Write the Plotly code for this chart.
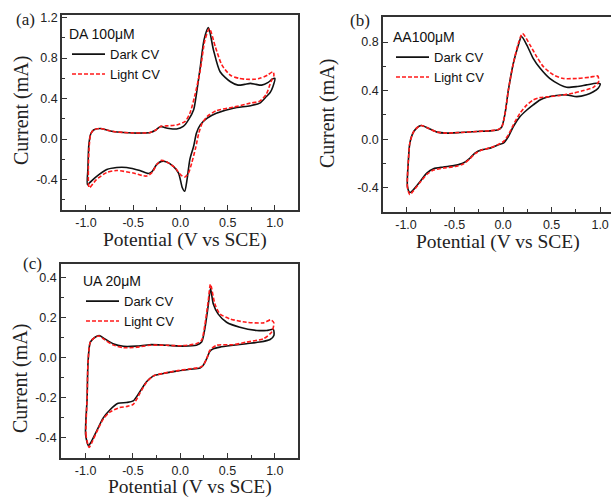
import plotly.graph_objects as go

# ---------------- data ----------------
# Panel (a) DA 100 uM
a_dark_x = [-0.985, -0.98, -0.97, -0.95, -0.92, -0.85, -0.78, -0.71, -0.60, -0.50, -0.40, -0.32, -0.26, -0.21,
            -0.17, -0.12, -0.04, 0.03, 0.085, 0.14, 0.17, 0.21, 0.25, 0.296, 0.35, 0.42, 0.53, 0.61, 0.68, 0.74,
            0.80, 0.86, 0.93, 0.97, 1.0, 0.98, 0.95, 0.91, 0.84, 0.74, 0.56, 0.38, 0.28, 0.21, 0.17, 0.14, 0.10,
            0.07, 0.045, 0.02, -0.02, -0.075, -0.145, -0.2, -0.25, -0.3, -0.34, -0.43, -0.57, -0.675, -0.78,
            -0.89, -0.96, -0.985]
a_dark_y = [-0.45, -0.30, -0.06, 0.05, 0.09, 0.105, 0.09, 0.075, 0.065, 0.06, 0.06, 0.065, 0.09, 0.125,
            0.115, 0.105, 0.10, 0.125, 0.19, 0.29, 0.45, 0.71, 0.98, 1.10, 0.88, 0.665, 0.566, 0.533, 0.54, 0.55,
            0.54, 0.533, 0.56, 0.59, 0.60, 0.52, 0.46, 0.42, 0.355, 0.33, 0.305, 0.255, 0.205, 0.14, 0.06, -0.07,
            -0.20, -0.40, -0.515, -0.48, -0.335, -0.27, -0.225, -0.22, -0.25, -0.32, -0.34, -0.31, -0.28, -0.28,
            -0.30, -0.37, -0.43, -0.45]
a_light_x = [-0.965, -0.975, -0.965, -0.95, -0.92, -0.85, -0.78, -0.71, -0.60, -0.50, -0.40, -0.32, -0.26,
             -0.21, -0.145, -0.04, 0.05, 0.10, 0.15, 0.21, 0.26, 0.307, 0.37, 0.44, 0.53, 0.62, 0.70, 0.78, 0.84,
             0.92, 0.98, 0.99, 0.96, 0.91, 0.84, 0.74, 0.56, 0.38, 0.28, 0.23, 0.195, 0.16, 0.12, 0.085, 0.045,
             0.0, -0.055, -0.145, -0.2, -0.25, -0.3, -0.36, -0.5, -0.675, -0.78, -0.89, -0.965]
a_light_y = [-0.48, -0.30, -0.06, 0.05, 0.09, 0.105, 0.09, 0.075, 0.065, 0.06, 0.06, 0.065, 0.09, 0.125, 0.13,
             0.14, 0.175, 0.255, 0.42, 0.68, 0.98, 1.09, 0.91, 0.73, 0.63, 0.60, 0.59, 0.59, 0.60, 0.63, 0.665,
             0.63, 0.57, 0.445, 0.375, 0.355, 0.315, 0.28, 0.22, 0.155, 0.06, -0.09, -0.235, -0.335, -0.375,
             -0.35, -0.285, -0.225, -0.21, -0.25, -0.33, -0.365, -0.335, -0.31, -0.33, -0.40, -0.48]

# Panel (b) AA 100 uM
b_dark_x = [-0.96, -0.985, -0.975, -0.96, -0.92, -0.87, -0.84, -0.77, -0.68, -0.58, -0.44, -0.27, -0.13, -0.05,
            -0.014, 0.02, 0.055, 0.106, 0.158, 0.19, 0.245, 0.31, 0.38, 0.48, 0.587, 0.655, 0.76, 0.86, 0.96, 1.0,
            0.98, 0.93, 0.86, 0.76, 0.655, 0.55, 0.45, 0.38, 0.31, 0.245, 0.175, 0.106, 0.055, 0.003, -0.048,
            -0.134, -0.22, -0.29, -0.34, -0.41, -0.494, -0.614, -0.717, -0.786, -0.854, -0.923, -0.96]
b_dark_y = [-0.44, -0.39, -0.17, -0.03, 0.063, 0.104, 0.112, 0.09, 0.058, 0.05, 0.055, 0.063, 0.068, 0.077,
            0.10, 0.21, 0.405, 0.625, 0.775, 0.845, 0.775, 0.665, 0.585, 0.50, 0.447, 0.427, 0.433, 0.447, 0.46,
            0.455, 0.42, 0.39, 0.365, 0.35, 0.365, 0.36, 0.345, 0.323, 0.282, 0.24, 0.186, 0.104, 0.022, -0.033,
            -0.047, -0.074, -0.088, -0.115, -0.156, -0.197, -0.216, -0.23, -0.244, -0.28, -0.348, -0.416, -0.44]
b_light_x = [-0.96, -0.985, -0.975, -0.96, -0.92, -0.87, -0.84, -0.77, -0.68, -0.58, -0.44, -0.27, -0.13, -0.05,
             -0.014, 0.02, 0.055, 0.106, 0.158, 0.2, 0.278, 0.346, 0.415, 0.518, 0.62, 0.76, 0.895, 0.975, 0.985,
             0.93, 0.83, 0.72, 0.587, 0.48, 0.38, 0.31, 0.245, 0.175, 0.106, 0.055, 0.003, -0.048, -0.134, -0.22,
             -0.29, -0.34, -0.41, -0.494, -0.614, -0.717, -0.786, -0.854, -0.923, -0.96]
b_light_y = [-0.457, -0.40, -0.17, -0.03, 0.063, 0.104, 0.112, 0.09, 0.058, 0.05, 0.055, 0.063, 0.07, 0.08, 0.10,
             0.21, 0.405, 0.625, 0.79, 0.87, 0.775, 0.68, 0.597, 0.53, 0.50, 0.50, 0.51, 0.52, 0.475, 0.427, 0.40,
             0.378, 0.36, 0.35, 0.342, 0.323, 0.282, 0.214, 0.118, 0.036, -0.02, -0.043, -0.072, -0.09, -0.12,
             -0.16, -0.205, -0.225, -0.238, -0.255, -0.29, -0.355, -0.425, -0.457]

# Panel (c) UA 20 uM
c_dark_x = [-0.97, -1.0, -0.984, -0.974, -0.95, -0.90, -0.857, -0.80, -0.71, -0.60, -0.46, -0.32, -0.145, 0.03,
            0.17, 0.226, 0.26, 0.296, 0.32, 0.35, 0.40, 0.49, 0.63, 0.81, 0.914, 0.984, 0.99, 0.95, 0.84, 0.70,
            0.56, 0.42, 0.35, 0.314, 0.28, 0.243, 0.21, 0.10, -0.04, -0.18, -0.286, -0.356, -0.427, -0.497,
            -0.568, -0.656, -0.744, -0.815, -0.885, -0.938, -0.97]
c_dark_y = [-0.441, -0.387, -0.205, -0.023, 0.076, 0.10, 0.109, 0.093, 0.068, 0.055, 0.056, 0.063, 0.06, 0.056,
            0.06, 0.076, 0.142, 0.258, 0.344, 0.266, 0.217, 0.175, 0.15, 0.134, 0.134, 0.139, 0.109, 0.089,
            0.076, 0.068, 0.06, 0.051, 0.043, 0.03, -0.007, -0.04, -0.053, -0.06, -0.069, -0.081, -0.094, -0.122,
            -0.172, -0.218, -0.226, -0.23, -0.263, -0.304, -0.37, -0.42, -0.441]
c_light_x = [-0.963, -0.995, -0.984, -0.974, -0.95, -0.90, -0.857, -0.80, -0.71, -0.60, -0.46, -0.32, -0.145,
             0.03, 0.17, 0.226, 0.26, 0.296, 0.32, 0.367, 0.42, 0.525, 0.70, 0.88, 0.956, 0.99, 0.966, 0.88, 0.70,
             0.56, 0.385, 0.314, 0.28, 0.243, 0.21, 0.10, -0.04, -0.18, -0.286, -0.356, -0.427, -0.497, -0.568,
             -0.64, -0.744, -0.815, -0.885, -0.938, -0.963]
c_light_y = [-0.45, -0.39, -0.205, -0.023, 0.076, 0.10, 0.106, 0.088, 0.062, 0.048, 0.05, 0.06, 0.06, 0.058,
             0.068, 0.085, 0.16, 0.28, 0.365, 0.266, 0.217, 0.192, 0.175, 0.172, 0.187, 0.172, 0.126, 0.093,
             0.076, 0.063, 0.06, 0.035, -0.007, -0.04, -0.05, -0.058, -0.068, -0.08, -0.094, -0.125, -0.18,
             -0.235, -0.246, -0.251, -0.274, -0.31, -0.375, -0.43, -0.45]

series_names = ["Dark CV", "Light CV"]
panel_titles = ["DA 100μM", "AA100μM", "UA 20μM"]
panel_labels = ["(a)", "(b)", "(c)"]
x_title = "Potential (V vs SCE)"
y_title = "Current (mA)"
x_tickvals = [-1.0, -0.5, 0.0, 0.5, 1.0]
a_yticks = [-0.4, 0.0, 0.4, 0.8, 1.2]
b_yticks = [-0.4, 0.0, 0.4, 0.8]
c_yticks = [-0.4, -0.2, 0.0, 0.2, 0.4]

# ---------------- figure ----------------
W, H = 611, 498
SANS = "Liberation Sans, Arial, sans-serif"
SERIF = "Liberation Serif, Times New Roman, serif"
DARK = "#111111"
RED = "#ff1a1a"

fig = go.Figure()

panels = [
    (a_dark_x, a_dark_y, a_light_x, a_light_y, "x", "y", "legend"),
    (b_dark_x, b_dark_y, b_light_x, b_light_y, "x2", "y2", "legend2"),
    (c_dark_x, c_dark_y, c_light_x, c_light_y, "x3", "y3", "legend3"),
]
for dx, dy, lx, ly, xa, ya, lg in panels:
    fig.add_trace(go.Scatter(x=dx, y=dy, mode="lines", name=series_names[0], xaxis=xa, yaxis=ya,
                             legend=lg, line=dict(color=DARK, width=1.6, shape="spline", smoothing=0.7)))
    fig.add_trace(go.Scatter(x=lx, y=ly, mode="lines", name=series_names[1], xaxis=xa, yaxis=ya,
                             legend=lg, line=dict(color=RED, width=1.6, dash="4px,2px",
                                                  shape="spline", smoothing=0.7)))


def px_x(p):
    return p / W


def px_y(p):
    return 1 - p / H


TICKFONT = dict(family=SANS, size=12.5, color="#222")


def xaxis(domain, rng, anchor, mirror=True):
    return dict(domain=domain, range=rng, anchor=anchor, automargin=False,
                tickvals=x_tickvals, ticktext=[f"{v:.1f}" for v in x_tickvals],
                showline=True, linecolor="#333", linewidth=1.5, mirror=mirror, ticks="inside", ticklen=5,
                tickwidth=1.2, tickcolor="#333", minor=dict(ticks="inside", ticklen=3, tickwidth=1.2,
                                                             tickcolor="#333", dtick=0.25, tick0=0),
                showgrid=False, zeroline=False, tickfont=TICKFONT)


def yaxis(domain, rng, anchor, tickvals, minor_dtick, mirror=True):
    return dict(domain=domain, range=rng, anchor=anchor, automargin=False,
                tickvals=tickvals, ticktext=[f"{v:.1f}" for v in tickvals],
                showline=True, linecolor="#333", linewidth=1.5, mirror=mirror, ticks="inside", ticklen=5,
                tickwidth=1.2, tickcolor="#333", minor=dict(ticks="inside", ticklen=3, tickwidth=1.2,
                                                             tickcolor="#333", dtick=minor_dtick, tick0=0),
                showgrid=False, zeroline=False, tickfont=TICKFONT)


fig.update_layout(
    template="none",
    width=W, height=H, autosize=False,
    margin=dict(l=0, r=0, t=0, b=0, pad=0),
    paper_bgcolor="white", plot_bgcolor="white",
    xaxis=xaxis([px_x(62), px_x(298)], [-1.254, 1.245], "y"),
    yaxis=yaxis([px_y(210), px_y(15)], [-0.70, 1.225], "x", a_yticks, 0.2),
    xaxis2=xaxis([px_x(383), 1.0], [-1.237, 1.112], "y2"),
    yaxis2=yaxis([px_y(212), px_y(17)], [-0.60, 1.006], "x2", b_yticks, 0.2, mirror=False),
    xaxis3=xaxis([px_x(61), px_x(298)], [-1.26, 1.245], "y3"),
    yaxis3=yaxis([px_y(458), px_y(264)], [-0.503, 0.466], "x3", c_yticks, 0.1),
)


def legend_cfg(x, y, title):
    return dict(x=x, y=y, xanchor="left", yanchor="top", bgcolor="rgba(0,0,0,0)", borderwidth=0,
                font=dict(family=SANS, size=13, color="#111"), tracegroupgap=0, itemwidth=33,
                title=dict(text=title, font=dict(family=SANS, size=14, color="#111")))


fig.update_layout(
    legend=legend_cfg(px_x(67), px_y(21), panel_titles[0]),
    legend2=legend_cfg(px_x(391), px_y(24), panel_titles[1]),
    legend3=legend_cfg(px_x(81), px_y(268), panel_titles[2]),
)

# panel labels
for lbl, (x, y) in zip(panel_labels, [(25, 19), (360, 21), (32, 263)]):
    fig.add_annotation(text=lbl, x=px_x(x), y=px_y(y), xref="paper", yref="paper", showarrow=False,
                       font=dict(family=SERIF, size=17, color="#222"), xanchor="center", yanchor="middle")

# axis titles
for (x, y) in [(185, 240), (498, 242), (190, 487)]:
    fig.add_annotation(text=x_title, x=px_x(x), y=px_y(y), xref="paper", yref="paper", showarrow=False,
                       font=dict(family=SERIF, size=19.5, color="#222"), xanchor="center", yanchor="middle")
for (x, y) in [(21, 111), (328, 114), (20, 379)]:
    fig.add_annotation(text=y_title, x=px_x(x), y=px_y(y), xref="paper", yref="paper", showarrow=False,
                       textangle=-90, font=dict(family=SERIF, size=20, color="#222"),
                       xanchor="center", yanchor="middle")

fig.write_html("out.html", config={"displayModeBar": False},
               post_script="document.body.style.margin='0';document.body.style.overflow='hidden';")
